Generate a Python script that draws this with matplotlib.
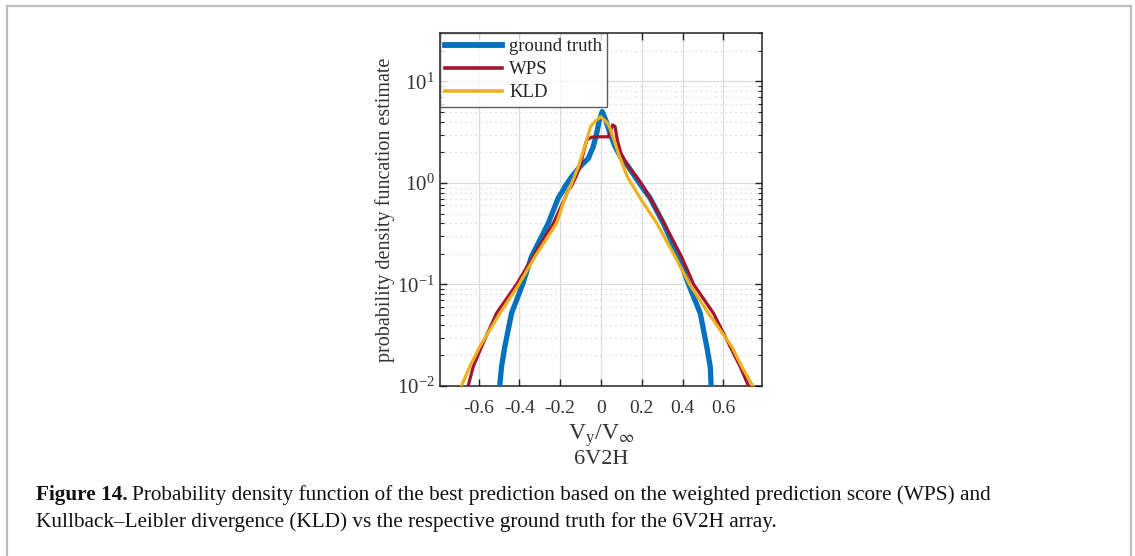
import matplotlib
matplotlib.use("Agg")
import matplotlib.pyplot as plt
from matplotlib.lines import Line2D

plt.rcParams['font.family'] = ['Liberation Serif', 'DejaVu Serif']
plt.rcParams['mathtext.fontset'] = 'stix'

# Ground truth PDF of Vy/Vinf
gt_x = [-0.498, -0.488, -0.472, -0.439, -0.385, -0.341, -0.259, -0.21, -0.185, -0.177,
        -0.144, -0.103, -0.062, -0.038, -0.021, -0.008, 0.006, 0.023, 0.044, 0.069,
        0.10, 0.134, 0.167, 0.20, 0.241, 0.306, 0.38, 0.43, 0.487, 0.519,
        0.536, 0.541]
gt_y = [0.0095, 0.0155, 0.0244, 0.052, 0.10, 0.188, 0.40, 0.71, 0.853, 0.92,
        1.15, 1.45, 1.75, 2.28, 3.09, 4.17, 5.04, 4.17, 3.09, 2.28,
        1.75, 1.45, 1.15, 0.92, 0.71, 0.40, 0.188, 0.10, 0.052, 0.0244,
        0.0155, 0.0095]

# Best prediction by weighted prediction score
wps_x = [-0.656, -0.627, -0.586, -0.513, -0.415, -0.333, -0.234, -0.177, -0.16, -0.147,
         -0.123, -0.103, -0.087, -0.07, -0.046, 0.0, 0.036, 0.057, 0.069, 0.08,
         0.098, 0.134, 0.175, 0.208, 0.241, 0.31, 0.395, 0.455, 0.552, 0.634,
         0.683, 0.724, 0.73]
wps_y = [0.0093, 0.0155, 0.0244, 0.052, 0.10, 0.188, 0.40, 0.71, 0.853, 0.92,
         1.15, 1.45, 1.96, 2.65, 2.82, 2.85, 2.85, 3.73, 3.6, 2.65,
         1.96, 1.45, 1.15, 0.92, 0.71, 0.40, 0.188, 0.10, 0.052, 0.0244,
         0.0155, 0.010, 0.0093]

# Best prediction by Kullback-Leibler divergence
kld_x = [-0.69, -0.685, -0.644, -0.595, -0.496, -0.403, -0.324, -0.218, -0.177, -0.155,
         -0.131, -0.111, -0.09, -0.07, -0.051, -0.03, -0.002, 0.025, 0.041, 0.064,
         0.085, 0.11, 0.129, 0.159, 0.192, 0.274, 0.364, 0.435, 0.527, 0.642,
         0.691, 0.745, 0.757]
kld_y = [0.0092, 0.010, 0.0155, 0.0244, 0.052, 0.10, 0.188, 0.40, 0.71, 0.88,
         1.15, 1.45, 1.96, 2.65, 3.59, 4.02, 4.5, 4.02, 3.59, 2.65,
         1.96, 1.45, 1.15, 0.92, 0.71, 0.40, 0.188, 0.10, 0.052, 0.0244,
         0.0155, 0.010, 0.0092]

x_ticks = [-0.6, -0.4, -0.2, 0, 0.2, 0.4, 0.6]
x_ticklabels = ['-0.6', '-0.4', '-0.2', '0', '0.2', '0.4', '0.6']
series_names = ['ground truth', 'WPS', 'KLD']

c_gt = '#0072BD'
c_wps = '#A2142F'
c_kld = '#EDB120'

W, H = 1135, 556
fig = plt.figure(figsize=(W / 100, H / 100), dpi=100)
ax = fig.add_axes([440 / W, 1 - 386 / H, 322 / W, 353 / H])

ax.plot(gt_x, gt_y, color=c_gt, lw=3.8, solid_joinstyle='round', zorder=3)
ax.plot(wps_x, wps_y, color=c_wps, lw=2.3, solid_joinstyle='round', zorder=4)
ax.plot(kld_x, kld_y, color=c_kld, lw=2.3, solid_joinstyle='round', zorder=5)

ax.set_yscale('log')
ax.set_ylim(0.01, 30)
ax.set_xlim(-0.79, 0.79)
ax.set_xticks(x_ticks)
ax.set_xticklabels(x_ticklabels)

ax.grid(True, which='major', color='#dcdcdc', lw=0.9, ls='-')
ax.grid(True, which='minor', axis='y', color='#d2d2d2', lw=0.9, ls=(0, (1, 3)))
ax.set_axisbelow(True)

ax.tick_params(which='both', direction='in', top=True, right=True,
               colors='#222222', labelcolor='#333333')
ax.tick_params(axis='x', labelsize=14, pad=10)
ax.tick_params(axis='y', labelsize=15, pad=4)
ax.tick_params(which='major', length=5, width=1)
ax.tick_params(which='minor', length=3, width=0.8)
for s in ax.spines.values():
    s.set_color('#222222')
    s.set_linewidth(1.1)

ax.set_ylabel('probability density funcation estimate', fontsize=14.5,
              color='#333333', labelpad=1)
ax.set_xlabel(r'V$_\mathregular{y}$/V$_\infty$', fontsize=17, color='#333333',
              labelpad=4)
fig.text(601 / W, 1 - 460 / H, '6V2H', ha='center', va='center',
         fontsize=16, color='#333333')

handles = [Line2D([], [], color=c_gt, lw=4.2),
           Line2D([], [], color=c_wps, lw=2.6),
           Line2D([], [], color=c_kld, lw=2.6)]
leg = ax.legend(handles, series_names, loc='upper left',
                fontsize=13.5, frameon=True, fancybox=False, borderaxespad=0,
                handlelength=3.0, handletextpad=0.4, borderpad=0.28,
                labelspacing=0.31)
leg.get_frame().set_edgecolor('#333333')
leg.get_frame().set_linewidth(1.0)
for t in leg.get_texts():
    t.set_color('#222222')

# Caption: bold lead followed by the body text on the same line
cap_size = 15.3
y1 = 1 - 495 / H
lead = fig.text(36 / W, y1, 'Figure 14.', fontsize=cap_size, fontweight='bold',
                va='center', ha='left', color='#111111')
renderer = fig.canvas.get_renderer()
bb = lead.get_window_extent(renderer=renderer)
fig.text((bb.x1 + 4) / W, y1,
         'Probability density function of the best prediction based on the '
         'weighted prediction score (WPS) and',
         fontsize=cap_size, va='center', ha='left', color='#111111')
fig.text(36 / W, 1 - 522 / H,
         'Kullback\u2013Leibler divergence (KLD) vs the respective ground truth '
         'for the 6V2H array.',
         fontsize=cap_size, va='center', ha='left', color='#111111')

# Page frame
frame_kw = dict(transform=fig.transFigure, color='#bdbdbd', lw=1.6)
fig.add_artist(Line2D([7 / W, 7 / W], [0, 1 - 6 / H], **frame_kw))
fig.add_artist(Line2D([7 / W, 1131 / W], [1 - 6 / H, 1 - 6 / H], **frame_kw))
fig.add_artist(Line2D([1131 / W, 1131 / W], [0, 1 - 6 / H], **frame_kw))

fig.savefig('out.png', dpi=100)
